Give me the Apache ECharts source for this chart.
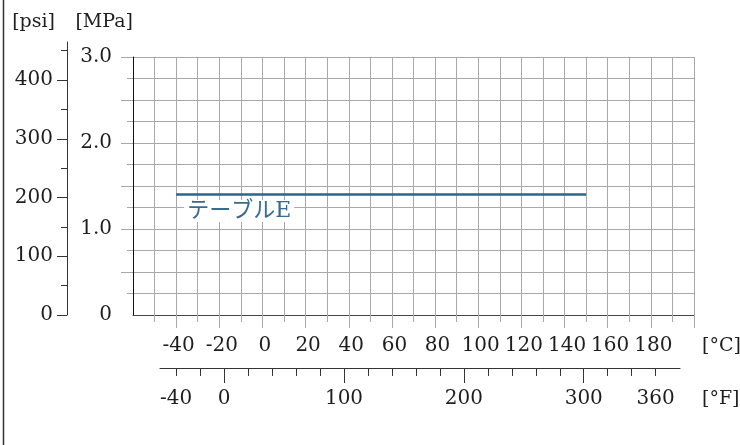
<!DOCTYPE html>
<html><head><meta charset="utf-8">
<script src="https://cdn.jsdelivr.net/npm/echarts@6/dist/echarts.min.js"></script>
<style>html,body{margin:0;padding:0;background:#fff}#c{width:740px;height:445px}</style>
</head><body><div id="c"></div>
<script>
// ---- data ----
const celsiusRange = [-60, 200];
const celsiusLabels = [-40, -20, 0, 20, 40, 60, 80, 100, 120, 140, 160, 180];
const celsiusLongTicks = [-40, -20, 0, 20, 40, 60, 80, 100, 120, 140, 160, 180, 200];
const celsiusShortTicks = [-50, -30, -10, 10, 30, 50, 70, 90, 110, 130, 150, 170, 190];
const fahrenheitRange = [-53.5, 380.3];
const fahrenheitLabels = [-40, 0, 100, 200, 300, 360];
const fahrenheitLongTicks = [0, 100, 200, 300];
const fahrenheitShortTicks = [-40, -20, 20, 40, 60, 80, 120, 140, 160, 180, 220, 240, 260, 280, 320, 340, 360];
const mpaRange = [0, 3];
const mpaLabels = [0, 1, 2, 3];
const mpaLongTicks = [0.5, 1, 1.5, 2, 2.5, 3];
const mpaShortTicks = [0.25, 0.75, 1.25, 1.75, 2.25, 2.75];
const psiRange = [0, 464.7];
const psiLabels = [0, 100, 200, 300, 400];
const psiShortTicks = [50, 150, 250, 350, 450];
const seriesName = 'テーブルE';
const seriesTemp = [-40, 150];
const seriesPressure = [1.4, 1.4];

// ---- styles ----
const FONT = 'DejaVu Serif';
const FS = 20;
const NFS = 19;
const TXT = '#1e1e1e';
const GRIDC = '#a8a8a8';
const DARK = '#333';

const chart = echarts.init(document.getElementById('c'), null, {renderer: 'canvas'});

function tickAxis(base, vals, len, color) {
  return Object.assign({}, base, {
    axisLine: {show: false, onZero: false},
    axisTick: {show: true, customValues: vals, length: len, lineStyle: {color: color, width: 1}},
    axisLabel: {show: false},
    splitLine: {show: false}
  });
}

const cBase = {type: 'value', gridIndex: 0, position: 'bottom', min: celsiusRange[0], max: celsiusRange[1]};
const fBase = {type: 'value', gridIndex: 2, position: 'bottom', min: fahrenheitRange[0], max: fahrenheitRange[1]};
const mBase = {type: 'value', gridIndex: 0, position: 'left', min: mpaRange[0], max: mpaRange[1]};
const pBase = {type: 'value', gridIndex: 1, position: 'left', min: psiRange[0], max: psiRange[1]};

const option = {
  animation: false,
  backgroundColor: '#fff',
  textStyle: {fontFamily: FONT},
  grid: [
    {left: 133, width: 561, top: 57, height: 258, containLabel: false, outerBoundsMode: 'none'},
    {left: 67, width: 20, top: 42, height: 273, containLabel: false, outerBoundsMode: 'none'},
    {left: 160, width: 520, top: 358, height: 10, containLabel: false, outerBoundsMode: 'none'}
  ],
  xAxis: [
    Object.assign({}, cBase, {
      interval: 10,
      axisLine: {show: true, onZero: false, lineStyle: {color: '#444', width: 1}},
      axisTick: {show: false},
      axisLabel: {show: true, customValues: celsiusLabels, margin: 21, fontFamily: FONT, fontSize: FS, color: TXT, padding: [0, 0, 0, 5]},
      splitLine: {show: true, lineStyle: {color: GRIDC, width: 1}},
      name: '[°C]', nameLocation: 'end', nameGap: 8,
      nameTextStyle: {fontFamily: FONT, fontSize: NFS, color: TXT, align: 'left', verticalAlign: 'top', padding: [22, 0, 0, 0]}
    }),
    tickAxis(cBase, celsiusLongTicks, 13, GRIDC),
    tickAxis(cBase, celsiusShortTicks, 7, GRIDC),
    Object.assign({}, fBase, {
      axisLine: {show: true, onZero: false, lineStyle: {color: DARK, width: 1}},
      axisTick: {show: true, customValues: fahrenheitShortTicks, length: 8, lineStyle: {color: DARK, width: 1}},
      axisLabel: {show: true, customValues: fahrenheitLabels, margin: 21, fontFamily: FONT, fontSize: FS, color: TXT},
      splitLine: {show: false},
      name: '[°F]', nameLocation: 'end', nameGap: 22,
      nameTextStyle: {fontFamily: FONT, fontSize: NFS, color: TXT, align: 'left', verticalAlign: 'top', padding: [22, 0, 0, 0]}
    }),
    tickAxis(fBase, fahrenheitLongTicks, 15, DARK),
    {type: 'value', gridIndex: 1, show: false, min: 0, max: 1}
  ],
  yAxis: [
    Object.assign({}, mBase, {
      interval: 0.25,
      axisLine: {show: true, onZero: false, lineStyle: {color: '#111', width: 1}},
      axisTick: {show: false},
      axisLabel: {show: true, customValues: mpaLabels, margin: 21, fontFamily: FONT, fontSize: FS, color: TXT,
        formatter: v => v === 0 ? '0' : v.toFixed(1)},
      splitLine: {show: true, lineStyle: {color: GRIDC, width: 1}},
      name: '[MPa]', nameLocation: 'end', nameGap: 35,
      nameTextStyle: {fontFamily: FONT, fontSize: NFS, color: TXT, align: 'right', verticalAlign: 'middle'}
    }),
    tickAxis(mBase, mpaLongTicks, 12, GRIDC),
    tickAxis(mBase, mpaShortTicks, 6, GRIDC),
    Object.assign({}, pBase, {
      axisLine: {show: true, onZero: false, lineStyle: {color: DARK, width: 1}},
      axisTick: {show: true, customValues: psiLabels, length: 10, lineStyle: {color: DARK, width: 1}},
      axisLabel: {show: true, customValues: psiLabels, margin: 14, fontFamily: FONT, fontSize: FS, color: TXT},
      splitLine: {show: false},
      name: '[psi]', nameLocation: 'end', nameGap: 20,
      nameTextStyle: {fontFamily: FONT, fontSize: NFS, color: TXT, align: 'right', verticalAlign: 'middle', padding: [0, 12, 0, 0]}
    }),
    tickAxis(pBase, psiShortTicks, 6, DARK),
    {type: 'value', gridIndex: 2, show: false, min: 0, max: 1}
  ],
  series: [{
    name: seriesName,
    type: 'line',
    xAxisIndex: 0, yAxisIndex: 0,
    data: seriesTemp.map((t, i) => [t, seriesPressure[i]]),
    symbol: 'none',
    lineStyle: {color: '#2f6586', width: 2.5},
    markPoint: {
      symbol: 'circle', symbolSize: 1,
      itemStyle: {color: 'rgba(0,0,0,0)'},
      label: {
        show: true, formatter: seriesName, position: 'bottom', align: 'left', verticalAlign: 'top',
        offset: [8, 0], distance: 5,
        fontFamily: FONT + ', Noto Sans CJK JP', fontSize: 22, color: '#3a6b8c',
        backgroundColor: '#fff', padding: [0, 3, 0, 3]
      },
      data: [{coord: [seriesTemp[0], seriesPressure[0]]}]
    }
  }],
  graphic: [{
    type: 'line', silent: true,
    shape: {x1: 3.5, y1: 0, x2: 3.5, y2: 445},
    style: {stroke: DARK, lineWidth: 1.5}
  }]
};
chart.setOption(option);
</script>
</body></html>
